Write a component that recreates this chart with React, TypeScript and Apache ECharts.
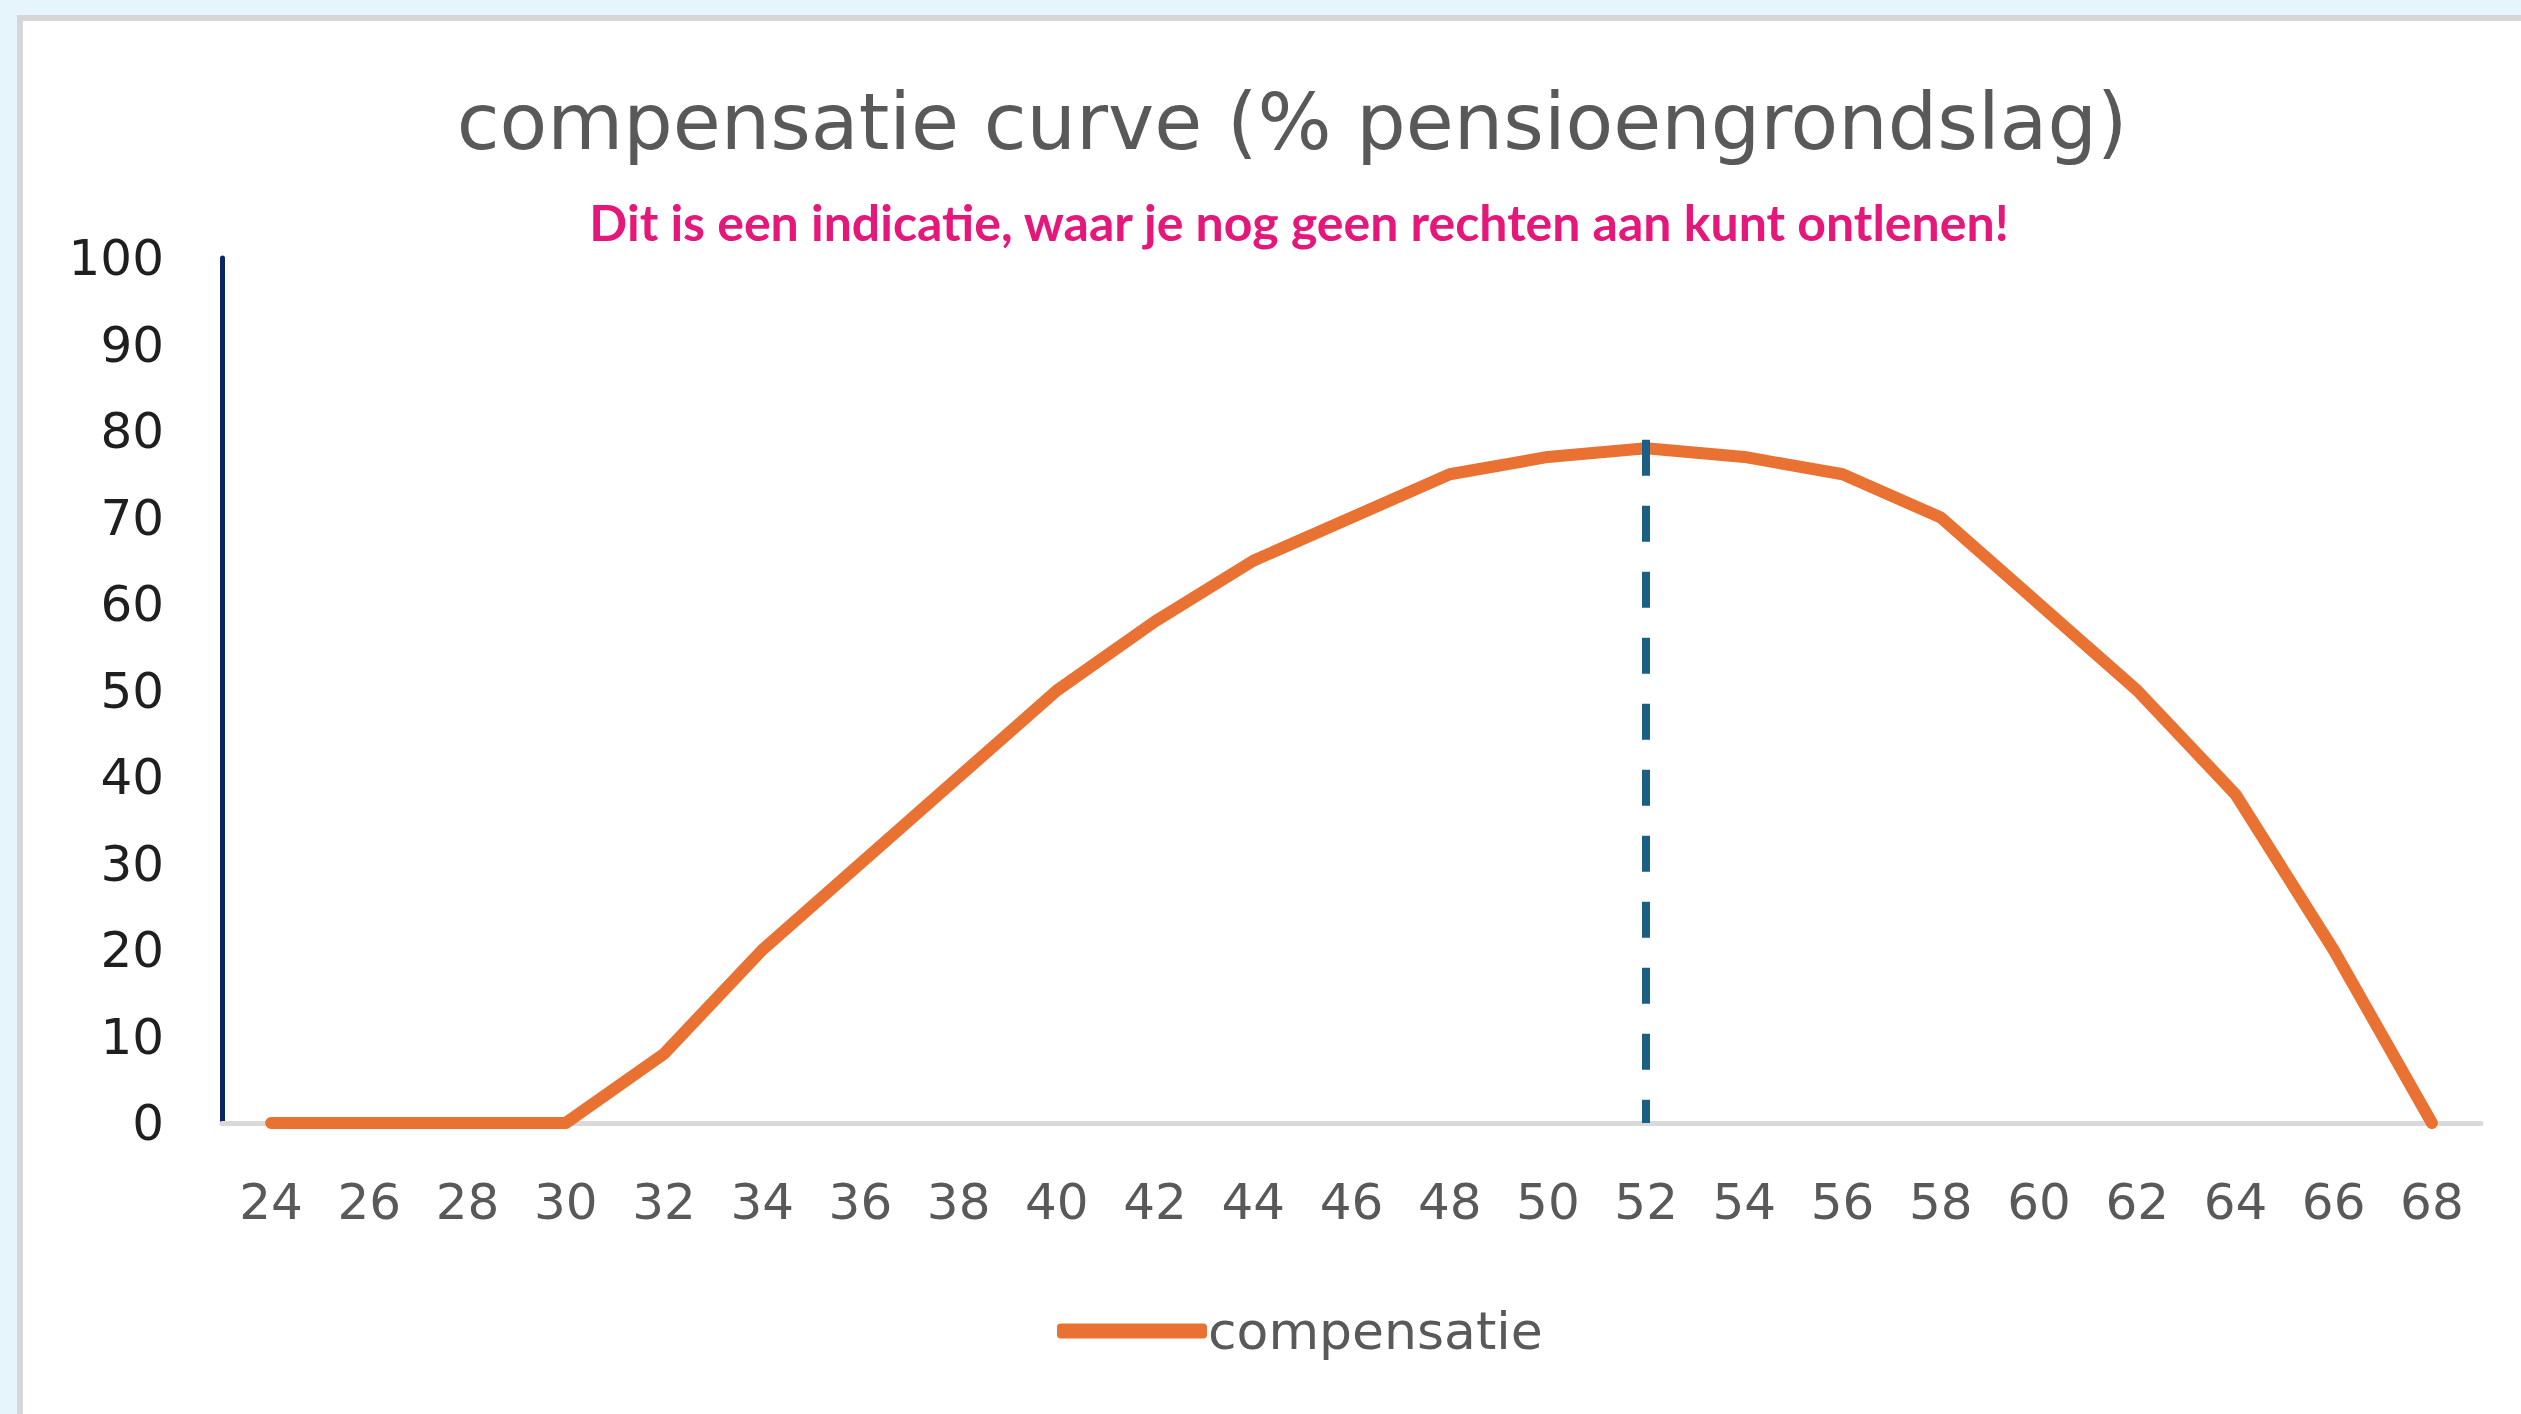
import React, { useEffect, useRef } from "react";
import * as echarts from "echarts";

const ages: string[] = ["24","26","28","30","32","34","36","38","40","42","44","46","48","50","52","54","56","58","60","62","64","66","68"];
const compensatie: number[] = [0,0,0,0,8,20,30,40,50,58,65,70,75,77,78,77,75,70,60,50,38,20,0];
const markerAge = "52";
const markerTop = 79;
const yTicks = { min: 0, max: 100, interval: 10 };
const titleText = "compensatie curve (% pensioengrondslag)";
const subText = "Dit is een indicatie, waar je nog geen rechten aan kunt ontlenen!";

export default function App() {
  const ref = useRef<HTMLDivElement>(null);
  useEffect(() => {
    if (!ref.current) return;
    const chart = echarts.init(ref.current, null, { renderer: "svg" });
    chart.setOption({
      animation: false,
      backgroundColor: "#e6f4fb",
      graphic: [
        {
          type: "rect",
          z: -10,
          silent: true,
          shape: { x: 20, y: 18, width: 2530, height: 1420 },
          style: { fill: "#ffffff", stroke: "#d6d6d6", lineWidth: 6 },
        },
      ],
      title: [
        {
          text: titleText,
          left: 1287,
          top: 78,
          textAlign: "center",
          textStyle: { fontFamily: "DejaVu Sans", fontSize: 78, fontWeight: "normal", color: "#595959" },
        },
        {
          text: subText,
          left: 1294,
          top: 192,
          textAlign: "center",
          textStyle: { fontFamily: "Lato", fontSize: 50, fontWeight: "bold", color: "#e5177b" },
        },
      ],
      legend: {
        left: 1052,
        top: 1300,
        icon: "roundRect",
        itemWidth: 150,
        itemHeight: 15,
        itemGap: 20,
        textStyle: { fontFamily: "DejaVu Sans", fontSize: 52, color: "#595959", padding: [0, 0, 0, -4] },
        data: ["compensatie"],
      },
      grid: { left: 222, top: 258, width: 2259, height: 865, containLabel: false },
      xAxis: {
        type: "category",
        data: ages,
        boundaryGap: true,
        axisLine: { show: true, lineStyle: { color: "#d9d9d9", width: 5 } },
        axisTick: { show: false },
        axisLabel: { interval: 0, margin: 54, fontFamily: "DejaVu Sans", fontSize: 50, color: "#595959" },
        splitLine: { show: false },
      },
      yAxis: {
        type: "value",
        min: yTicks.min,
        max: yTicks.max,
        interval: yTicks.interval,
        axisLine: { show: true, lineStyle: { color: "#0b2566", width: 5 } },
        axisTick: { show: false },
        axisLabel: { margin: 58, fontFamily: "DejaVu Sans", fontSize: 50, color: "#1f1f1f" },
        splitLine: { show: false },
      },
      series: [
        {
          name: "compensatie",
          type: "line",
          data: compensatie,
          symbol: "none",
          itemStyle: { color: "#e97132" },
          lineStyle: { color: "#e97132", width: 12, join: "round", cap: "round" },
          z: 3,
          markLine: {
            silent: true,
            symbol: ["none", "none"],
            label: { show: false },
            lineStyle: { color: "#1b5f86", width: 8, type: [36, 30] },
            data: [[{ coord: [markerAge, markerTop] }, { coord: [markerAge, 0] }]],
          },
        },
      ],
    });
    return () => chart.dispose();
  }, []);
  return <div ref={ref} style={{ position: "fixed", left: 0, top: 0, width: 2521, height: 1414 }} />;
}
